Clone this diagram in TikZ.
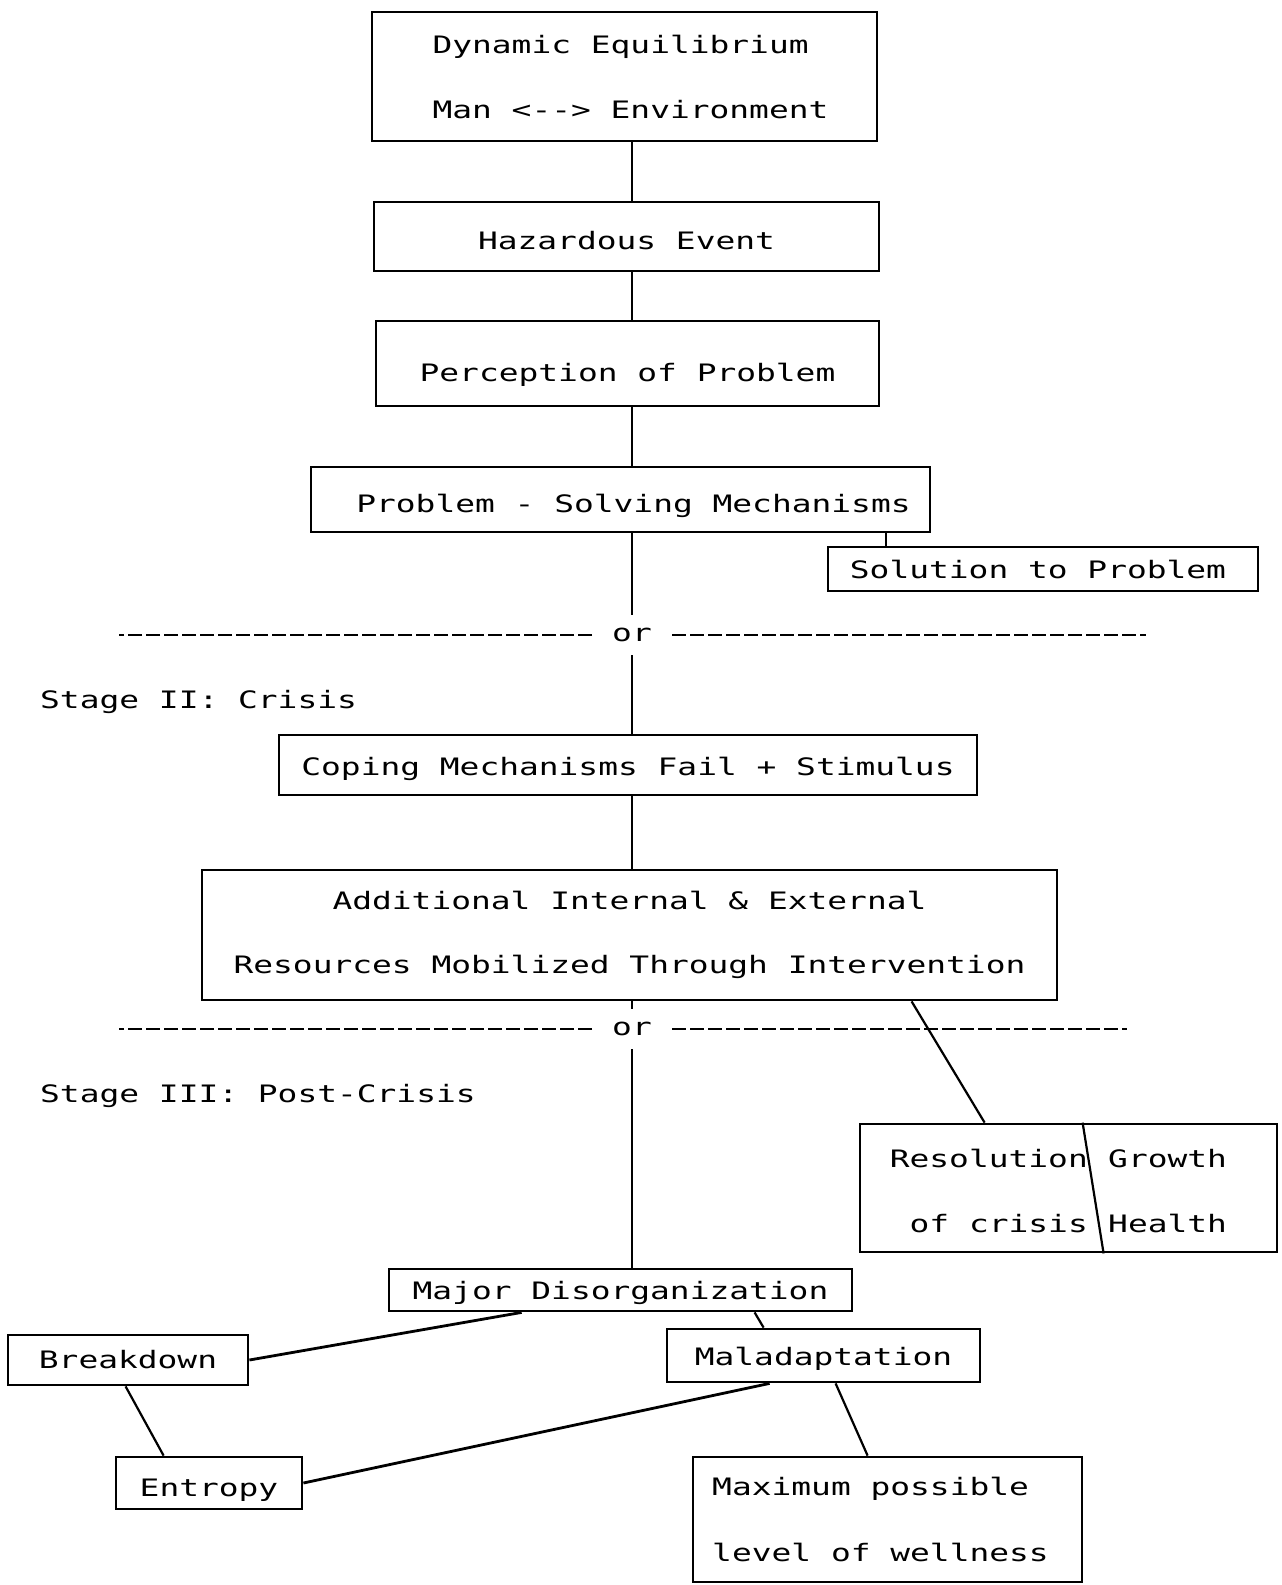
\documentclass[tikz,border=0pt]{standalone}
\usepackage{fontspec}
\setmonofont{DejaVu Sans Mono}[FakeStretch=1.37]
\usetikzlibrary{calc}
\newcommand\dn[2]{\raisebox{-#1}[\height][\depth]{#2}}
\tikzset{
  txt/.style={font=\ttfamily\fontsize{24}{29}\selectfont},
  bx/.style={txt, draw, line width=2.8pt, inner sep=0pt},
  lbl/.style={txt, inner sep=0pt},
  ornode/.style={txt, inner sep=0pt, inner xsep=20pt, minimum height=40pt},
  ln/.style={line width=2.2pt},
  thk/.style={line width=2.8pt},
  dsh/.style={line width=2.2pt, dash pattern=on 14pt off 4pt},
}
\begin{document}
\begin{tikzpicture}[x=1pt,y=-1pt]
\fill[white] (0,0) rectangle (1282,1585);
\useasboundingbox (0,0) rectangle (1282,1585);
\coordinate (sp) at (632,0);

\node[bx, minimum width=505, minimum height=129, align=left] (dyn) at (624.5,76.5) {\hspace*{12pt}Dynamic Equilibrium\\[36pt]\hspace*{12pt}Man <--> Environment};
\node[bx, minimum width=505, minimum height=69] (haz) at (626.5,236.5) {\dn{4pt}{Hazardous Event}};
\node[bx, minimum width=503, minimum height=85] (per) at (627.5,363.5) {\dn{11pt}{Perception of Problem}};
\node[bx, minimum width=619, minimum height=65] (ps) at (620.5,499.5) {\dn{6pt}{\hspace*{26pt}Problem - Solving Mechanisms}};
\node[bx, minimum width=430, minimum height=44] (sol) at (1043,569) {Solution to Problem\hspace*{10pt}};
\node[ornode] (or1) at (632,635) {or};
\node[lbl, anchor=west] (st2) at (40,702) {Stage II: Crisis};
\node[bx, minimum width=698, minimum height=60] (cop) at (628,765) {\dn{4pt}{Coping Mechanisms Fail + Stimulus}};
\node[bx, minimum width=855, minimum height=130, align=center] (add) at (629.5,935) {Additional Internal \& External\\[35pt]Resources Mobilized Through Intervention};
\node[ornode] (or2) at (632,1029) {or};
\node[lbl, anchor=west] (st3) at (40,1096) {Stage III: Post-Crisis};
\node[bx, minimum width=417, minimum height=128] (res) at (1068.5,1188) {};
\node[lbl, align=right, anchor=east] (resl) at (1088,1191) {Resolution\\[36pt]of crisis};
\node[lbl, align=left, anchor=west] (resr) at (1108,1191) {Growth\\[36pt]Health};
\node[bx, minimum width=463, minimum height=42] (maj) at (620.5,1290) {\dn{3pt}{Major Disorganization}};
\node[bx, minimum width=240, minimum height=50] (brk) at (128,1360) {Breakdown};
\node[bx, minimum width=313, minimum height=53] (mal) at (823.5,1355.5) {\dn{3pt}{Maladaptation}};
\node[bx, minimum width=186, minimum height=52] (ent) at (209,1483) {\dn{7pt}{Entropy}};
\node[bx, minimum width=389, minimum height=125, align=left] (max) at (887.5,1519.5) {Maximum possible\\[37pt]level of wellness\hspace*{14pt}};

% spine
\draw[ln] (dyn.south -| sp) -- (haz.north -| sp);
\draw[ln] (haz.south -| sp) -- (per.north -| sp);
\draw[ln] (per.south -| sp) -- (ps.north -| sp);
\draw[ln] (ps.south -| sp) -- (or1.north);
\draw[ln] (or1.south) -- (cop.north -| sp);
\draw[ln] (cop.south -| sp) -- (add.north -| sp);
\draw[ln] (add.south -| sp) -- (or2.north);
\draw[ln] (or2.south) -- (maj.north -| sp);

% dashed separators
\coordinate (d1l) at (119,635); \coordinate (d1r) at (1146,635);
\coordinate (d2l) at (119,1029); \coordinate (d2r) at (1127,1029);
\draw[dsh] (or1.west) -- (d1l);
\draw[dsh] (or1.east) -- (d1r);
\draw[dsh] (or2.west) -- (d2l);
\draw[dsh] (or2.east) -- (d2r);

% side branches
\draw[ln] ($(ps.south west)+(576,0)$) -- ($(sol.north west)+(59,0)$);
\draw[ln] ($(add.south west)+(711,0)$) -- ($(res.north west)+(126,0)$);
\draw[ln] ($(res.north west)+(224,0)$) -- ($(res.south west)+(245,0)$);

% bottom network
\draw[thk] ($(maj.south west)+(134,0)$) -- (brk.east);
\draw[ln] ($(maj.south west)+(367,0)$) -- ($(mal.north west)+(98,0)$);
\draw[ln] ($(brk.south west)+(119,0)$) -- ($(ent.north west)+(49,0)$);
\draw[thk] ($(mal.south west)+(104,0)$) -- (ent.east);
\draw[ln] ($(mal.south west)+(170,0)$) -- ($(max.north west)+(176,0)$);
\end{tikzpicture}
\end{document}
